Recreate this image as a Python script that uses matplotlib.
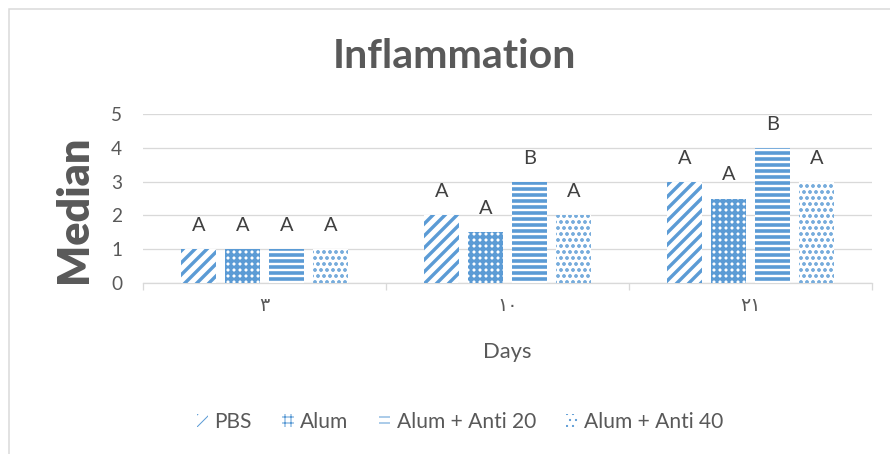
import numpy as np
import matplotlib
matplotlib.use('Agg')
import matplotlib.pyplot as plt
from matplotlib.patches import Rectangle, Patch

# data
days = ['٣', '١٠', '٢١']
groups = ['PBS', 'Alum', 'Alum + Anti 20', 'Alum + Anti 40']
medians = [
    [1, 2, 3],      # PBS
    [1, 1.5, 2.5],  # Alum
    [1, 3, 4],      # Alum + Anti 20
    [1, 2, 3],      # Alum + Anti 40
]
letters = [
    ['A', 'A', 'A'],
    ['A', 'A', 'A'],
    ['A', 'B', 'B'],
    ['A', 'A', 'A'],
]

blue = '#5B9BD5'
grey_txt = '#595959'
grid_c = '#D9D9D9'
hatches = ['//', '++', '--', '..']
hatch_lw = [3.4, 3.1, 3.6, 2.4]

plt.rcParams['font.family'] = ['Lato', 'DejaVu Sans']

# dpi 72 -> 1pt == 1px
fig = plt.figure(figsize=(890 / 72, 454 / 72), dpi=72)
ax = fig.add_axes([143 / 890, 1 - 283 / 454, 729 / 890, 169 / 454])

x = np.arange(len(days))
width = 0.144
offsets = [-0.2716, -0.0905, 0.0905, 0.2716]

handles = []
for i, g in enumerate(groups):
    with plt.rc_context({'hatch.linewidth': hatch_lw[i]}):
        bars = ax.bar(x + offsets[i], medians[i], width, facecolor='white',
                      edgecolor=blue, linewidth=0, hatch=hatches[i], zorder=3)
        for b in bars:
            if hasattr(b, 'set_hatch_linewidth'):
                b.set_hatch_linewidth(hatch_lw[i])
        h = Patch(facecolor='white', edgecolor=blue, linewidth=0,
                  hatch=hatches[i], label=g)
        if hasattr(h, 'set_hatch_linewidth'):
            h.set_hatch_linewidth(hatch_lw[i])
        handles.append(h)
    for xi, v, lab in zip(x + offsets[i], medians[i], letters[i]):
        ax.annotate(lab, (xi, v), xytext=(0, 15), textcoords='offset points',
                    ha='center', va='bottom', fontsize=20, color='#404040')

ax.set_xlim(-0.5, len(days) - 0.5)
ax.set_ylim(0, 5)
ax.set_yticks(range(6))
ax.yaxis.grid(True, color=grid_c, linewidth=1.3, zorder=0)
ax.set_axisbelow(True)
ax.tick_params(axis='y', length=0, pad=21, labelsize=19, labelcolor=grey_txt)

ax.set_xticks(x)
ax.set_xticklabels(days)
ax.set_xticks(np.arange(len(days) + 1) - 0.5, minor=True)
ax.tick_params(axis='x', which='major', length=0, pad=14, labelsize=19,
               labelcolor=grey_txt)
ax.tick_params(axis='x', which='minor', length=7, width=1.3, color=grid_c)

for s in ['top', 'right', 'left']:
    ax.spines[s].set_visible(False)
ax.spines['bottom'].set_color(grid_c)
ax.spines['bottom'].set_linewidth(1.3)

ax.set_xlabel('Days', fontsize=22, color=grey_txt, labelpad=28)

fig.text(454 / 890, 1 - 57 / 454, 'Inflammation', ha='center', va='center',
         fontsize=41, fontweight='bold', color=grey_txt)
fig.text(87 / 890, 1 - 209 / 454, 'Median', ha='center', va='baseline',
         rotation=90, rotation_mode='anchor', fontsize=43,
         fontweight='heavy', color=grey_txt)

fig.legend(handles=handles, loc='center', bbox_to_anchor=(460 / 890, 1 - 422 / 454),
           ncol=4, frameon=False, fontsize=21, labelcolor=grey_txt,
           handlelength=0.55, handleheight=0.55, handletextpad=0.3,
           columnspacing=1.45)

# chart area border
fig.patches.append(Rectangle((9 / 890, -0.2), 1.2, 1.2 - 9 / 454,
                             transform=fig.transFigure, fill=False,
                             edgecolor=grid_c, linewidth=1.5))

fig.savefig('out.png', dpi=72, facecolor='white')
